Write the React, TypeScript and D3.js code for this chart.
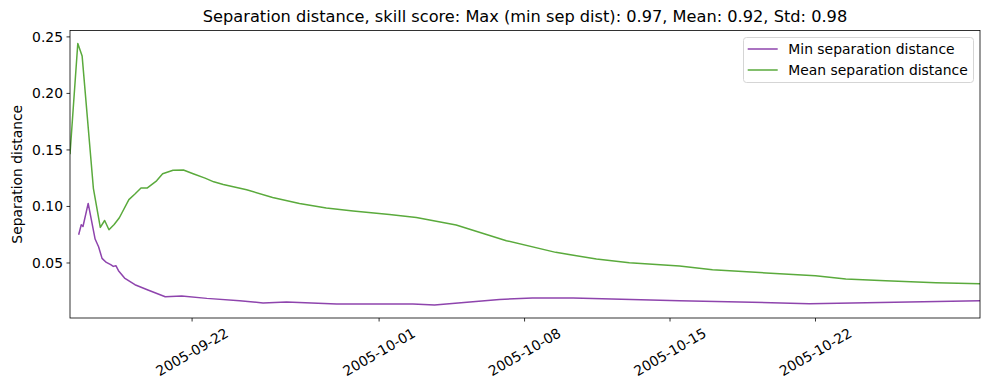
import React from "react";
import * as d3 from "d3";

const meanDates = [
  "2005-09-16T03:00", "2005-09-16T12:00", "2005-09-16T17:00", "2005-09-17T06:00", "2005-09-17T14:00",
  "2005-09-17T19:00", "2005-09-18T00:00", "2005-09-18T06:00", "2005-09-18T12:00", "2005-09-18T23:00",
  "2005-09-19T06:00", "2005-09-19T13:00", "2005-09-19T20:00", "2005-09-20T07:00", "2005-09-20T14:00",
  "2005-09-21T02:00", "2005-09-21T14:00", "2005-09-22T02:00", "2005-09-22T15:00", "2005-09-23T01:00",
  "2005-09-23T12:00", "2005-09-24T15:00", "2005-09-25T21:00", "2005-09-27T04:00", "2005-09-28T11:00",
  "2005-09-29T18:00", "2005-10-01T12:00", "2005-10-02T19:00", "2005-10-04T17:00", "2005-10-07T03:00",
  "2005-10-09T12:00", "2005-10-11T11:00", "2005-10-13T01:00", "2005-10-15T11:00", "2005-10-17T01:00",
  "2005-10-19T15:00", "2005-10-22T00:00", "2005-10-23T11:00", "2005-10-25T09:00", "2005-10-27T19:00",
  "2005-10-29T22:00",
];
const meanValues = [
  0.1463, 0.2441, 0.2332, 0.1161, 0.0815,
  0.0876, 0.0794, 0.0841, 0.0900, 0.1061,
  0.1110, 0.1163, 0.1163, 0.1227, 0.1289,
  0.1320, 0.1322, 0.1287, 0.1251, 0.1218,
  0.1195, 0.1148, 0.1080, 0.1027, 0.0986,
  0.0960, 0.0930, 0.0903, 0.0836, 0.0697,
  0.0594, 0.0535, 0.0503, 0.0473, 0.0441,
  0.0412, 0.0388, 0.0359, 0.0344, 0.0326,
  0.0317,
];

const minDates = [
  "2005-09-16T13:00", "2005-09-16T16:00", "2005-09-16T18:00", "2005-09-17T00:00", "2005-09-17T08:00",
  "2005-09-17T12:00", "2005-09-17T16:00", "2005-09-17T21:00", "2005-09-18T02:00", "2005-09-18T05:00",
  "2005-09-18T08:00", "2005-09-18T11:00", "2005-09-18T18:00", "2005-09-19T06:00", "2005-09-19T21:00",
  "2005-09-20T17:00", "2005-09-21T12:00", "2005-09-22T17:00", "2005-09-24T07:00", "2005-09-25T10:00",
  "2005-09-26T13:00", "2005-09-28T23:00", "2005-10-02T15:00", "2005-10-03T16:00", "2005-10-06T19:00",
  "2005-10-08T09:00", "2005-10-10T08:00", "2005-10-15T11:00", "2005-10-21T17:00", "2005-10-29T22:00",
];
const minValues = [
  0.0750, 0.0838, 0.0823, 0.1027, 0.0712,
  0.0644, 0.0541, 0.0505, 0.0485, 0.0470,
  0.0476, 0.0432, 0.0367, 0.0308, 0.0261,
  0.0202, 0.0208, 0.0187, 0.0167, 0.0147,
  0.0155, 0.0138, 0.0138, 0.0129, 0.0178,
  0.0191, 0.0191, 0.0167, 0.0140, 0.0167,
];

const xTickLabels = ["2005-09-22", "2005-10-01", "2005-10-08", "2005-10-15", "2005-10-22"];
const yTicks = [0.05, 0.1, 0.15, 0.2, 0.25];

const seriesNames = ["Min separation distance", "Mean separation distance"];
const seriesColors = ["#8e44ad", "#5aaa3c"];
const titleText =
  "Separation distance, skill score: Max (min sep dist): 0.97, Mean: 0.92, Std: 0.98";
const yLabel = "Separation distance";

const W = 989;
const H = 390;
const M = { left: 70, right: 980, top: 30.5, bottom: 318 };
const FONT = "DejaVu Sans, sans-serif";

export default function App() {
  const parse = d3.utcParse("%Y-%m-%dT%H:%M");
  const parseDay = d3.utcParse("%Y-%m-%d");
  const minData = minDates.map((d, i) => ({ t: parse(d) as Date, v: minValues[i] }));
  const meanData = meanDates.map((d, i) => ({ t: parse(d) as Date, v: meanValues[i] }));
  const all = [...minData, ...meanData];

  const xExt = d3.extent(all, (d) => d.t) as [Date, Date];
  const yExt = d3.extent(all, (d) => d.v) as [number, number];
  const pad = (yExt[1] - yExt[0]) * 0.05;

  const x = d3.scaleUtc().domain(xExt).range([M.left, M.right]);
  const y = d3.scaleLinear().domain([yExt[0] - pad, yExt[1] + pad]).range([M.bottom, M.top]);

  const line = d3
    .line<{ t: Date; v: number }>()
    .x((d) => x(d.t))
    .y((d) => y(d.v));

  const fmt = d3.format(".2f");
  const series = [minData, meanData];

  return (
    <svg
      width={W}
      height={H}
      style={{ position: "absolute", left: 0, top: 0, background: "#fff" }}
      fontFamily={FONT}
    >
      <rect x={0} y={0} width={W} height={H} fill="#fff" />
      <defs>
        <clipPath id="plotclip">
          <rect x={M.left} y={M.top} width={M.right - M.left} height={M.bottom - M.top} />
        </clipPath>
      </defs>
      <g clipPath="url(#plotclip)">
        {series.map((s, i) => (
          <path
            key={i}
            d={line(s) || ""}
            fill="none"
            stroke={seriesColors[i]}
            strokeWidth={1.5}
            strokeLinejoin="round"
            strokeLinecap="butt"
          />
        ))}
      </g>
      {/* spines */}
      <rect
        x={M.left}
        y={M.top}
        width={M.right - M.left}
        height={M.bottom - M.top}
        fill="none"
        stroke="#000"
        strokeWidth={0.8}
      />
      {/* y ticks */}
      {yTicks.map((t) => (
        <g key={t}>
          <line x1={M.left - 3.5} x2={M.left} y1={y(t)} y2={y(t)} stroke="#000" strokeWidth={0.8} />
          <text x={M.left - 7} y={y(t)} dy="0.35em" textAnchor="end" fontSize={13.9} fill="#000">
            {fmt(t)}
          </text>
        </g>
      ))}
      {/* x ticks */}
      {xTickLabels.map((lab) => {
        const px = x(parseDay(lab) as Date);
        const cy = M.bottom + 7 + 27;
        return (
          <g key={lab}>
            <line x1={px} x2={px} y1={M.bottom} y2={M.bottom + 3.5} stroke="#000" strokeWidth={0.8} />
            <text
              x={px}
              y={cy}
              dy="0.35em"
              textAnchor="middle"
              fontSize={13.9}
              fill="#000"
              transform={`rotate(-30 ${px} ${cy})`}
            >
              {lab}
            </text>
          </g>
        );
      })}
      {/* title */}
      <text x={(M.left + M.right) / 2} y={22} textAnchor="middle" fontSize={16.2} fill="#000">
        {titleText}
      </text>
      {/* y label */}
      <text
        x={21.5}
        y={(M.top + M.bottom) / 2}
        textAnchor="middle"
        fontSize={13.9}
        fill="#000"
        transform={`rotate(-90 21.5 ${(M.top + M.bottom) / 2})`}
      >
        {yLabel}
      </text>
      {/* legend */}
      <rect
        x={743.5}
        y={37.5}
        width={230}
        height={45}
        rx={3}
        fill="#fff"
        fillOpacity={0.8}
        stroke="#d5d5d5"
        strokeWidth={1}
      />
      {seriesNames.map((n, i) => (
        <g key={n}>
          <line
            x1={747.7}
            x2={777.7}
            y1={49 + i * 21}
            y2={49 + i * 21}
            stroke={seriesColors[i]}
            strokeWidth={1.5}
          />
          <text x={788.3} y={49 + i * 21} dy="0.35em" fontSize={13.9} fill="#000">
            {n}
          </text>
        </g>
      ))}
    </svg>
  );
}
